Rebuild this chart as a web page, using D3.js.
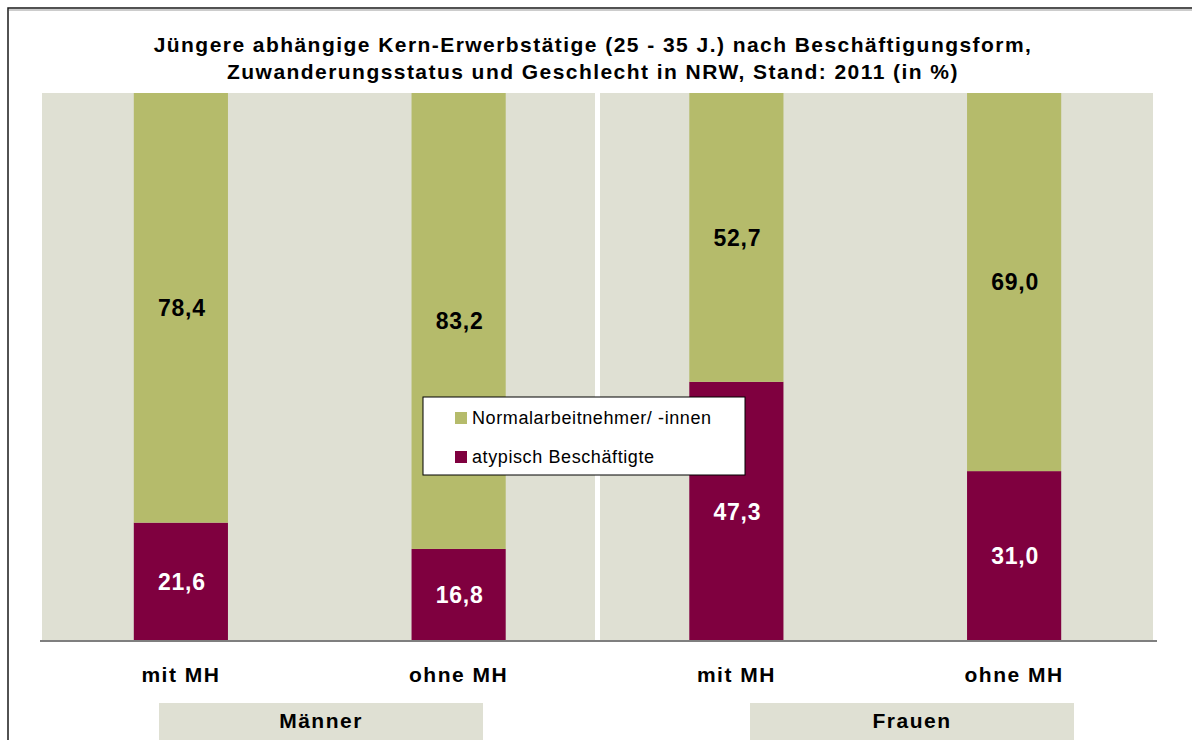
<!DOCTYPE html>
<html>
<head>
<meta charset="utf-8">
<script src="https://cdn.jsdelivr.net/npm/d3@7"></script>
<style>
  body { margin: 0; background: #fff; }
  text { font-family: Arial, "Liberation Sans", sans-serif; }
</style>
</head>
<body>
<div id="chart"></div>
<script>
// data
var categories = ["mit MH", "ohne MH", "mit MH", "ohne MH"];
var groupOf = ["Männer", "Männer", "Frauen", "Frauen"];
var groupLabels = ["Männer", "Frauen"];
var atypisch = [21.6, 16.8, 47.3, 31.0];
var normal = [78.4, 83.2, 52.7, 69.0];
var seriesKeys = ["atypisch", "normal"];
var seriesNames = ["Normalarbeitnehmer/ -innen", "atypisch Beschäftigte"];
var titleLines = [
  "Jüngere abhängige Kern-Erwerbstätige (25 - 35 J.) nach Beschäftigungsform,",
  "Zuwanderungsstatus und Geschlecht in NRW, Stand: 2011 (in %)"
];

var rows = categories.map(function(c, i) {
  return { idx: i, cat: c, group: groupOf[i], atypisch: atypisch[i], normal: normal[i] };
});

var width = 1192, height = 740;
var plot = { left: 42, right: 1153, top: 93, bottom: 641 };

var color = d3.scaleOrdinal()
  .domain(seriesKeys)
  .range(["#7f003f", "#b5bb6b"]);

var svg = d3.select("#chart")
  .append("svg")
    .attr("width", width)
    .attr("height", height);

// outer frame
svg.append("rect")
  .attr("x", 8).attr("y", 8)
  .attr("width", 1300).attr("height", 800)
  .attr("fill", "none")
  .attr("stroke", "#1a1a1a")
  .attr("stroke-width", 1.5);
svg.append("line")
  .attr("x1", 9).attr("x2", 1192)
  .attr("y1", 10).attr("y2", 10)
  .attr("stroke", "#999").attr("stroke-width", 1);

// title
svg.append("g").selectAll("text")
  .data(titleLines)
  .enter()
  .append("text")
    .attr("x", 593)
    .attr("y", function(d, i) { return 52 + i * 27; })
    .attr("text-anchor", "middle")
    .attr("font-size", "21px")
    .attr("font-weight", "bold")
    .attr("letter-spacing", "1.45px")
    .attr("fill", "#000")
    .text(function(d) { return d; });

var x = d3.scaleBand()
  .domain(rows.map(function(d) { return d.idx; }))
  .range([plot.left, plot.right])
  .paddingInner(0.661)
  .paddingOuter(0.3305);

var y = d3.scaleLinear()
  .domain([0, 100])
  .range([plot.bottom, plot.top]);

// plot background
svg.append("rect")
  .attr("x", plot.left)
  .attr("y", y(100))
  .attr("width", plot.right - plot.left)
  .attr("height", y(0) - y(100))
  .attr("fill", "#dfe0d3");

// white divider between Männer and Frauen
var divX = (x(1) + x.bandwidth() + x(2)) / 2;
svg.append("line")
  .attr("x1", divX).attr("x2", divX)
  .attr("y1", y(100)).attr("y2", y(0))
  .attr("stroke", "#fff")
  .attr("stroke-width", 5);

var stacked = d3.stack().keys(seriesKeys)(rows);

var layers = svg.append("g").selectAll("g")
  .data(stacked)
  .enter()
  .append("g")
    .attr("fill", function(d) { return color(d.key); });

layers.selectAll("rect")
  .data(function(d) { return d; })
  .enter()
  .append("rect")
    .attr("x", function(d) { return x(d.data.idx); })
    .attr("y", function(d) { return y(d[1]); })
    .attr("width", x.bandwidth())
    .attr("height", function(d) { return y(d[0]) - y(d[1]); });

// value labels
stacked.forEach(function(layer) {
  svg.append("g").selectAll("text")
    .data(layer)
    .enter()
    .append("text")
      .attr("x", function(d) { return x(d.data.idx) + x.bandwidth() / 2 + 1; })
      .attr("y", function(d) { return (y(d[0]) + y(d[1])) / 2; })
      .attr("dy", "0.36em")
      .attr("text-anchor", "middle")
      .attr("font-size", "23px")
      .attr("font-weight", "bold")
      .attr("letter-spacing", "0.8px")
      .attr("fill", layer.key === "atypisch" ? "#fff" : "#000")
      .text(function(d) { return d3.format(".1f")(d[1] - d[0]).replace(".", ","); });
});

// baseline
svg.append("line")
  .attr("x1", 40).attr("x2", 1157)
  .attr("y1", y(0)).attr("y2", y(0))
  .attr("stroke", "#7f7f7f")
  .attr("stroke-width", 2);

// category axis
var xAxis = svg.append("g")
  .attr("transform", "translate(0," + y(0) + ")")
  .call(d3.axisBottom(x).tickSize(0).tickPadding(0)
    .tickFormat(function(i) { return categories[i]; }));
xAxis.select(".domain").remove();
xAxis.selectAll("text")
  .attr("y", 41)
  .attr("dy", 0)
  .attr("font-family", "Arial, 'Liberation Sans', sans-serif")
  .attr("font-size", "21px")
  .attr("font-weight", "bold")
  .attr("letter-spacing", "1.5px")
  .attr("fill", "#000");

// group label boxes
var gx = d3.scaleBand()
  .domain(groupLabels)
  .range([159, 1074])
  .paddingInner(267 / 591);

var gBoxes = svg.append("g").selectAll("g")
  .data(groupLabels)
  .enter()
  .append("g");
gBoxes.append("rect")
  .attr("x", function(d) { return gx(d); })
  .attr("y", 703)
  .attr("width", gx.bandwidth())
  .attr("height", 40)
  .attr("fill", "#dfe0d3");
gBoxes.append("text")
  .attr("x", function(d) { return gx(d) + gx.bandwidth() / 2; })
  .attr("y", 728)
  .attr("text-anchor", "middle")
  .attr("font-size", "21px")
  .attr("font-weight", "bold")
  .attr("letter-spacing", "1.5px")
  .attr("fill", "#000")
  .text(function(d) { return d; });

// legend
var legend = svg.append("g")
  .attr("transform", "translate(423,397)");
legend.append("rect")
  .attr("width", 322)
  .attr("height", 78)
  .attr("fill", "#fff")
  .attr("stroke", "#000")
  .attr("stroke-width", 1);

var legendKeys = ["normal", "atypisch"];
var items = legend.selectAll(".legend")
  .data(legendKeys)
  .enter()
  .append("g")
    .classed("legend", true)
    .attr("transform", function(d, i) { return "translate(32," + (15 + i * 39) + ")"; });
items.append("rect")
  .attr("width", 12)
  .attr("height", 12)
  .attr("fill", function(d) { return color(d); });
items.append("text")
  .attr("x", 17)
  .attr("y", 12)
  .attr("font-size", "18px")
  .attr("letter-spacing", "0.6px")
  .attr("fill", "#000")
  .text(function(d, i) { return seriesNames[i]; });
</script>
</body>
</html>
